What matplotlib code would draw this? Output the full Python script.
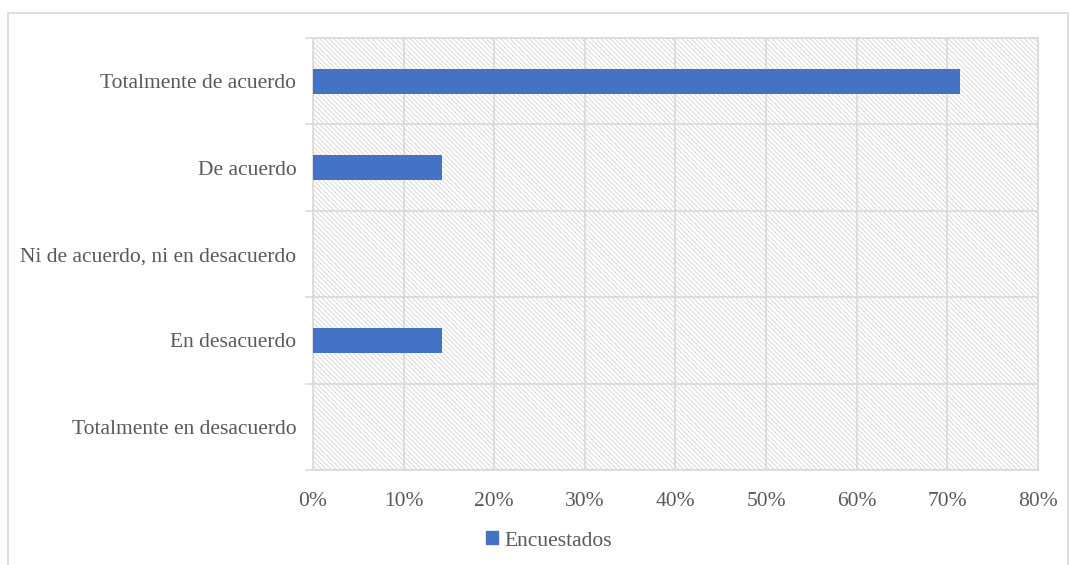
import matplotlib
matplotlib.use("Agg")
import matplotlib.pyplot as plt
from matplotlib.patches import Rectangle, Patch
from matplotlib.ticker import FixedLocator, PercentFormatter

categories = ["Totalmente de acuerdo", "De acuerdo", "Ni de acuerdo, ni en desacuerdo",
              "En desacuerdo", "Totalmente en desacuerdo"]
encuestados = [71.43, 14.29, 0.0, 14.29, 0.0]
series_name = "Encuestados"

plt.rcParams['font.family'] = ['Liberation Serif', 'DejaVu Serif']
plt.rcParams['hatch.linewidth'] = 0.6
plt.rcParams['hatch.color'] = '#d4d4d4'

TEXT = '#595959'
GRID = '#d9d9d9'
BLUE = '#4472C4'
FS = 15.5

fig = plt.figure(figsize=(10.7, 5.65), dpi=100)
ax = fig.add_axes([0.2925, 0.168, 0.6775, 0.7647])

# outer chart frame
fig.patches.append(Rectangle((8 / 1070, -0.1), 1060 / 1070, 1.1 - 13 / 565,
                             transform=fig.transFigure, fill=False,
                             edgecolor=GRID, linewidth=1.2))

# hatched plot area
ax.add_patch(Rectangle((0, 0), 1, 1, transform=ax.transAxes, facecolor='white',
                       edgecolor='#d4d4d4', hatch='\\' * 7, linewidth=0, zorder=0))

pos = list(range(len(categories)))
ax.barh(pos, encuestados, height=0.29, color=BLUE, zorder=3)

ax.set_ylim(len(categories) - 0.5, -0.5)
ax.set_xlim(0, 80)
ax.set_yticks(pos)
ax.set_yticklabels(categories)
ax.yaxis.set_minor_locator(FixedLocator([i - 0.5 for i in range(len(categories) + 1)]))
ax.set_xticks(range(0, 81, 10))
ax.xaxis.set_major_formatter(PercentFormatter(decimals=0))

ax.grid(axis='x', which='major', color=GRID, linewidth=1.2, zorder=1)
ax.grid(axis='y', which='minor', color=GRID, linewidth=1.2, zorder=1)
ax.set_axisbelow(True)

ax.tick_params(axis='y', which='major', length=0, pad=12, labelsize=FS, labelcolor=TEXT)
ax.tick_params(axis='y', which='minor', length=6, color=GRID, width=1.2)
ax.tick_params(axis='x', which='major', length=0, pad=16, labelsize=FS, labelcolor=TEXT)

for s in ax.spines.values():
    s.set_color(GRID)
    s.set_linewidth(1.2)

fig.legend(handles=[Patch(color=BLUE, label=series_name)], loc='center',
           bbox_to_anchor=(0.513, 0.0425), frameon=False, fontsize=FS,
           handlelength=0.55, handleheight=0.55, handletextpad=0.3, labelcolor=TEXT)

fig.savefig("out.png", dpi=100)
